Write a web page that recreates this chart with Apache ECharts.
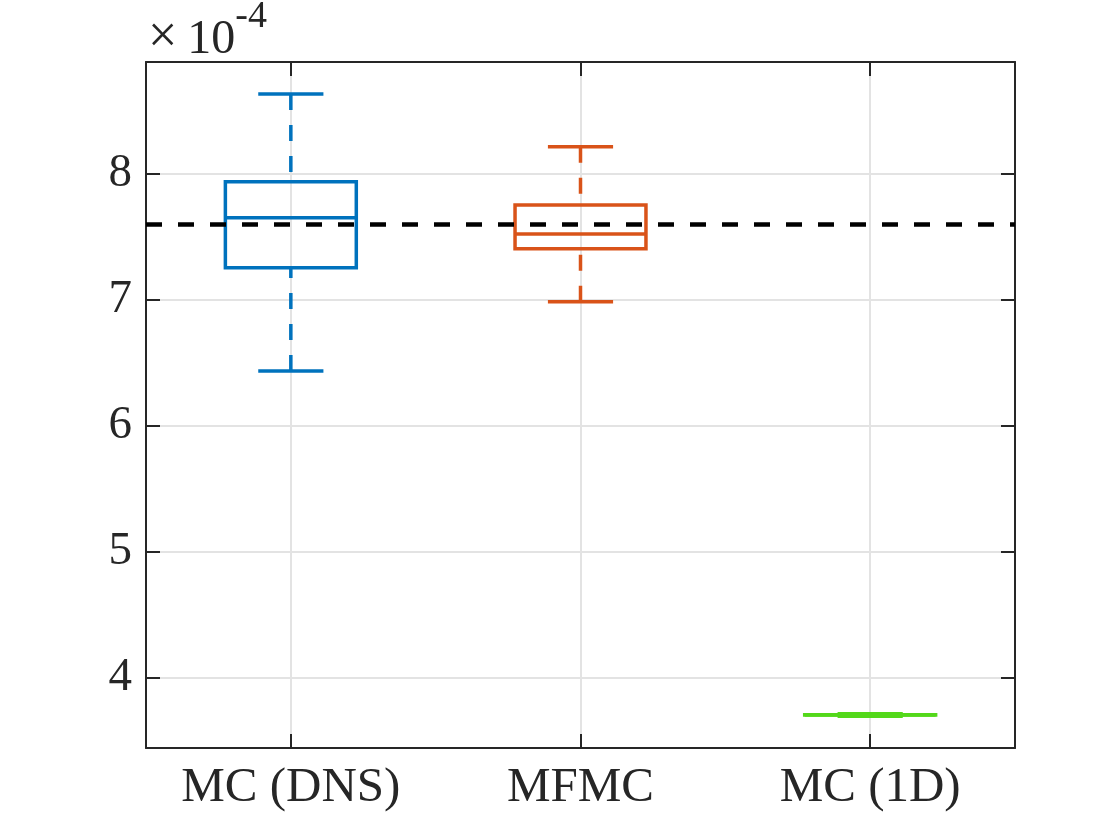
<!DOCTYPE html>
<html>
<head>
<meta charset="utf-8">
<script src="https://cdn.jsdelivr.net/npm/echarts@6/dist/echarts.min.js"></script>
<style>
  html, body { margin: 0; padding: 0; background: #fff; }
  #chart { width: 1120px; height: 840px; }
</style>
</head>
<body>
<div id="chart"></div>
<script>
// box statistics, in units of 1e-4
const categories = ['MC (DNS)', 'MFMC', 'MC (1D)']
const whiskerLow = [6.437, 6.987, 3.696]
const q1 = [7.256, 7.407, 3.705]
const medians = [7.653, 7.524, 3.706]
const q3 = [7.939, 7.754, 3.707]
const whiskerHigh = [8.635, 8.217, 3.716]
const referenceValue = [7.6]
const yTicks = [4, 5, 6, 7, 8]
const yRange = [3.444, 8.889]
const boxColors = ['#0072bd', '#d95319', '#53d81a']

// hidden top axis: 7 slots, category centres sit on the odd ones
const topSlots = ['', '', '', '', '', '', '']
const onCentre = function(idx) { return idx % 2 === 1 }

const ink = '#262626'
const font = '"Liberation Serif", "Times New Roman", serif'

let rows = []
for (let i = 0; i < categories.length; i++)
    rows.push([i, whiskerLow[i], q1[i], medians[i], q3[i], whiskerHigh[i]])

function renderBox(params, api) {
    const i = api.value(0)
    const low = api.coord([i, api.value(1)])
    const yQ1 = api.coord([i, api.value(2)])[1]
    const yMed = api.coord([i, api.value(3)])[1]
    const yQ3 = api.coord([i, api.value(4)])[1]
    const yHigh = api.coord([i, api.value(5)])[1]
    const x = low[0], yLow = low[1]
    const band = api.size([1, 0])[0]
    const boxHalf = band * 0.452 / 2
    const capHalf = band * 0.225 / 2
    const color = boxColors[i]
    const solid = { stroke: color, lineWidth: 3.5, fill: null }
    const dashed = { stroke: color, lineWidth: 3.5, lineDash: [16, 15], fill: null }
    return {
        type: 'group',
        children: [
            { type: 'line', shape: { x1: x, y1: yHigh, x2: x, y2: yQ3 }, style: dashed },
            { type: 'line', shape: { x1: x, y1: yLow, x2: x, y2: yQ1 }, style: dashed },
            { type: 'line', shape: { x1: x - capHalf, y1: yHigh, x2: x + capHalf, y2: yHigh }, style: solid },
            { type: 'line', shape: { x1: x - capHalf, y1: yLow, x2: x + capHalf, y2: yLow }, style: solid },
            { type: 'rect', shape: { x: x - boxHalf, y: yQ3, width: boxHalf * 2, height: yQ1 - yQ3 }, style: solid },
            { type: 'line', shape: { x1: x - boxHalf, y1: yMed, x2: x + boxHalf, y2: yMed }, style: solid }
        ]
    }
}

const chart = echarts.init(document.getElementById('chart'))
const option = {
    animation: false,
    backgroundColor: '#fff',
    title: {
        left: 148,
        top: 4,
        padding: 0,
        text: '{m|×}{a|10}{b|-4}',
        textStyle: {
            fontWeight: 'normal',
            rich: {
                m: { fontFamily: font, fontSize: 52, fontWeight: 'normal', color: ink, padding: [0, 10, 0, 0], verticalAlign: 'bottom', lineHeight: 26 },
                a: { fontFamily: font, fontSize: 48, fontWeight: 'normal', color: ink, verticalAlign: 'bottom', lineHeight: 60 },
                b: { fontFamily: font, fontSize: 38, fontWeight: 'normal', color: ink, verticalAlign: 'bottom', lineHeight: 60, padding: [0, 0, 28, 0] }
            }
        }
    },
    grid: { left: 146, right: 105, top: 62, bottom: 92, containLabel: false },
    xAxis: [{
        type: 'category',
        data: categories,
        position: 'bottom',
        boundaryGap: true,
        axisLine: { show: true, lineStyle: { color: ink, width: 2 } },
        axisTick: { show: true, inside: true, alignWithLabel: true, length: 14, lineStyle: { color: ink, width: 2 } },
        axisLabel: { color: ink, fontFamily: font, fontSize: 49, margin: 16 },
        splitLine: { show: false }
    }, {
        type: 'category',
        data: topSlots,
        position: 'top',
        boundaryGap: false,
        axisLine: { show: true, lineStyle: { color: ink, width: 2 } },
        axisTick: { show: true, inside: true, length: 14, interval: onCentre, lineStyle: { color: ink, width: 2 } },
        axisLabel: { show: false },
        splitLine: { show: true, interval: onCentre, lineStyle: { color: '#e3e3e3', width: 2 } }
    }],
    yAxis: [{
        type: 'value',
        min: yRange[0],
        max: yRange[1],
        position: 'left',
        axisLine: { show: true, lineStyle: { color: ink, width: 2 } },
        axisTick: { show: true, inside: true, length: 14, lineStyle: { color: ink, width: 2 } },
        axisLabel: {
            color: ink, fontFamily: font, fontSize: 47, margin: 14,
            showMinLabel: false, showMaxLabel: false,
            formatter: function(v) { return yTicks.indexOf(v) != -1 ? String(v) : '' }
        },
        splitLine: { show: true, lineStyle: { color: '#e3e3e3', width: 2 } }
    }, {
        type: 'value',
        min: yRange[0],
        max: yRange[1],
        position: 'right',
        axisLine: { show: true, lineStyle: { color: ink, width: 2 } },
        axisTick: { show: true, inside: true, length: 14, lineStyle: { color: ink, width: 2 } },
        axisLabel: { show: false },
        splitLine: { show: false }
    }],
    series: [{
        type: 'custom',
        xAxisIndex: 0,
        yAxisIndex: 0,
        renderItem: renderBox,
        encode: { x: 0, y: [1, 2, 3, 4, 5] },
        data: rows,
        silent: true,
        z: 3
    }, {
        type: 'line',
        xAxisIndex: 0,
        yAxisIndex: 0,
        data: [],
        symbol: 'none',
        silent: true,
        z: 5,
        markLine: {
            silent: true,
            symbol: ['none', 'none'],
            label: { show: false },
            lineStyle: { color: '#000', width: 4.5, type: [16, 16] },
            data: referenceValue.map(v => ({ yAxis: v }))
        }
    }]
}
chart.setOption(option)
</script>
</body>
</html>
